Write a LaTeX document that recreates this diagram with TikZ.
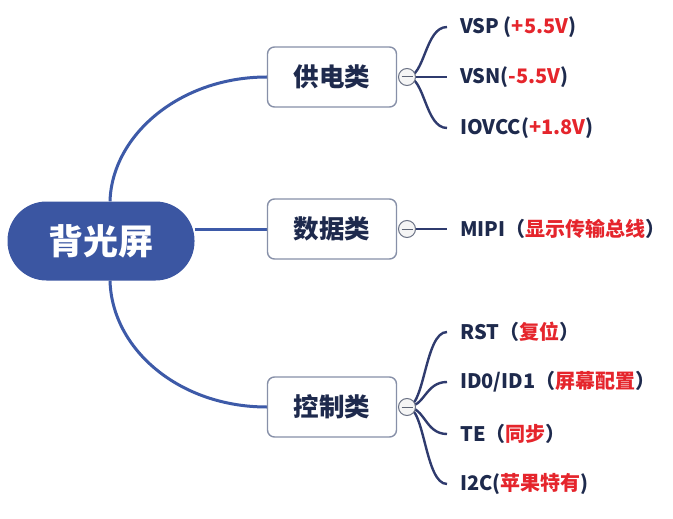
\documentclass[tikz,border=0pt]{standalone}
\usepackage{fontspec}
\setmainfont{Noto Sans CJK SC}
\usetikzlibrary{backgrounds}
\definecolor{rootblue}{HTML}{3B56A2}
\definecolor{branchline}{HTML}{3D5AA8}
\definecolor{leafline}{HTML}{2F3B6E}
\definecolor{boxborder}{HTML}{8790A8}
\definecolor{txt}{HTML}{1E2A4D}
\definecolor{redtxt}{HTML}{E5252C}
\newcommand{\rd}[1]{\textcolor{redtxt}{#1}}
\tikzset{
  rootnode/.style={rectangle, rounded corners=39pt, fill=rootblue, minimum width=187pt, minimum height=79pt, text=white, font=\fontsize{35}{38}\selectfont\bfseries, inner sep=0pt},
  branch/.style={rectangle, rounded corners=7pt, draw=boxborder, line width=1.4pt, fill=white, minimum width=129pt, minimum height=60pt, text=txt, font=\fontsize{25.5}{28}\selectfont\bfseries, inner sep=0pt},
  toggle/.style={circle, draw=boxborder!80!black, line width=1pt, fill=gray!8, minimum size=17pt, inner sep=0pt},
  leaf/.style={anchor=west, text=txt, font=\fontsize{20}{23}\selectfont\bfseries, inner xsep=13pt, inner ysep=2pt},
  bline/.style={draw=branchline, line width=3pt},
  lline/.style={draw=leafline, line width=2.4pt},
  minusline/.style={draw=boxborder!70!black, line width=1pt}
}
\begin{document}
\begin{tikzpicture}[x=1pt,y=-1pt]
\useasboundingbox (0,0) rectangle (673,519);
% root and branches
\node[rootnode] (root) at (101,241) {背光屏};
\node[branch] (b1) at (332,77) {供电类};
\node[branch] (b2) at (332,229) {数据类};
\node[branch] (b3) at (332,407) {控制类};
\node[toggle] (c1) at (407,77) {};
\node[toggle] (c2) at (407,229) {};
\node[toggle] (c3) at (407,407) {};
\foreach \c in {c1,c2,c3}{
  \draw[minusline] ([xshift=-5.5pt]\c.center) -- ([xshift=5.5pt]\c.center);
}
% leaves
\node[leaf] (l11) at (447,27) {VSP (\rd{+5.5V})};
\node[leaf] (l12) at (447,77) {VSN(\rd{-5.5V})};
\node[leaf] (l13) at (447,128) {IOVCC(\rd{+1.8V})};
\node[leaf] (l21) at (447,229) {MIPI（\rd{显示传输总线}）};
\node[leaf] (l31) at (447,332) {RST（\rd{复位}）};
\node[leaf] (l32) at (447,382) {ID0/ID1（\rd{屏幕配置}）};
\node[leaf] (l33) at (447,434) {TE（\rd{同步}）};
\node[leaf] (l34) at (447,484) {I2C(\rd{苹果特有})};
\begin{scope}[on background layer]
  \fill[white] (0,0) rectangle (673,519);
  \draw[bline] ([xshift=9pt]root.north) .. controls (112,135) and (180,77) .. (b1.west);
  \draw[bline] (root.east |- b2.west) -- (b2.west);
  \draw[bline] ([xshift=9pt]root.south) .. controls (112,350) and (180,407) .. (b3.west);
  \foreach \c/\l in {c1/l11,c1/l12,c1/l13,c2/l21,c3/l31,c3/l32,c3/l33,c3/l34}{
    \draw[lline] (\c.center) .. controls +(18,0) and +(-22,0) .. (\l.west);
  }
\end{scope}
\end{tikzpicture}
\end{document}
